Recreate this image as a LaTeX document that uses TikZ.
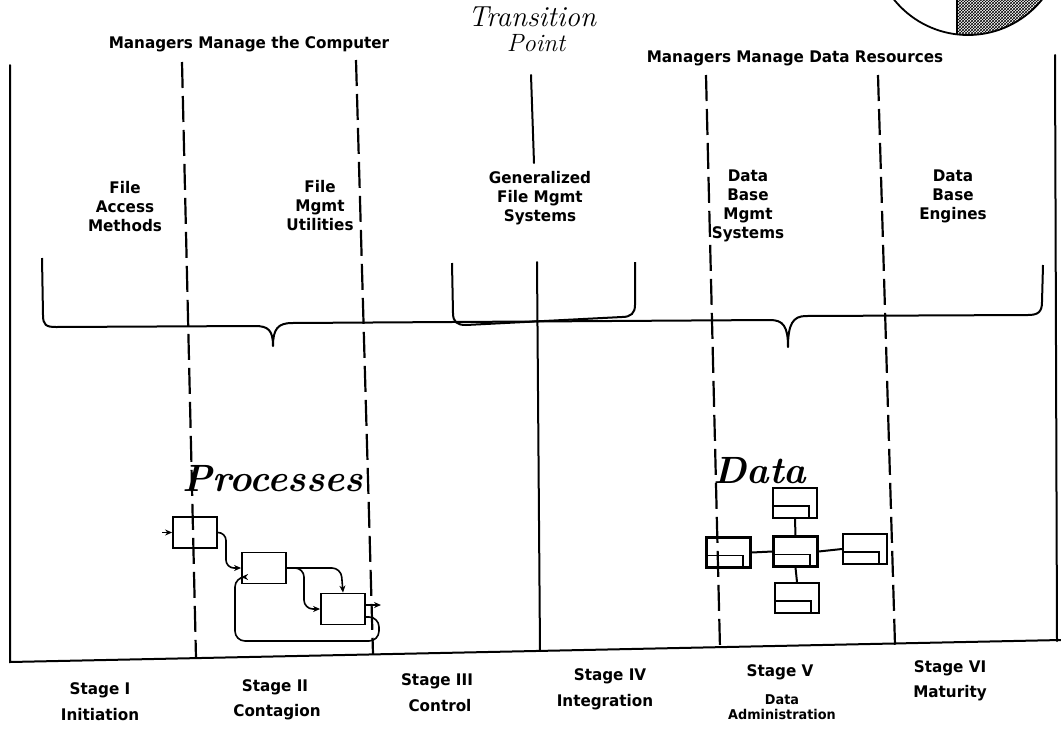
\documentclass[tikz,border=0pt]{standalone}
\usepackage{fontspec}
\setmainfont{Latin Modern Roman}
\newfontfamily\labelfont{DejaVu Sans}[FakeStretch=0.95]
\usetikzlibrary{arrows.meta,patterns}
\begin{document}
\begin{tikzpicture}[x=1pt,y=-1pt,
  frame/.style={line width=2pt,line cap=round},
  divider/.style={line width=2.2pt,dash pattern=on 26pt off 8pt},
  brk/.style={line width=2pt,line join=round},
  lbl/.style={font=\labelfont\bfseries\fontsize{16}{19}\selectfont,align=center,inner sep=0pt},
  small/.style={font=\labelfont\bfseries\fontsize{13.5}{15}\selectfont,align=center,inner sep=0pt},
  flow/.style={line width=1.6pt,-{Stealth[length=7pt,width=6pt]}},
  pbox/.style={draw,line width=1.8pt,minimum width=44pt,minimum height=31pt,inner sep=0pt},
  dbox/.style={draw,line width=2.2pt,minimum width=44pt,minimum height=30pt,inner sep=0pt},
  link/.style={line width=2pt},
  big/.style={font=\bfseries\itshape\fontsize{38}{38}\selectfont,inner sep=0pt}]
\useasboundingbox (0,0) rectangle (1061,729);
\clip (0,0) rectangle (1061,729);

% pie in the corner
\begin{scope}
  \clip (968,-60) circle (95);
  \fill[pattern=crosshatch] (957,-170) rectangle (1070,40);
\end{scope}
\draw[line width=1.8pt] (968,-60) circle (95);
\draw[line width=1.6pt] (957,-60) -- (957,34.5);

% frame
\draw[frame] (10,65) -- (10,662) -- (1061,640);
\draw[frame] (1055,55) -- (1057,641);

% stage dividers
\draw[divider] (182,62) -- (196,658);
\draw[divider] (356,60) -- (373,654);
\draw[divider] (706,75) -- (720,648);
\draw[divider] (878,75) -- (895,645);
\draw[frame] (531,75) -- (534,163);
\draw[frame] (537,262) -- (540,651);

% headings
\node[font=\itshape\fontsize{29}{29}\selectfont,inner sep=0pt] (tr1) at (532,17) {Transition};
\node[font=\itshape\fontsize{25}{25}\selectfont,inner sep=0pt] (tr2) at (536,43) {Point};
\node[lbl] (hl) at (249,44) {Managers Manage the Computer};
\node[lbl] (hr) at (795,58) {Managers Manage Data Resources};

% technologies
\node[lbl] (t1) at (125,207) {File\\Access\\Methods};
\node[lbl] (t2) at (320,206) {File\\Mgmt\\Utilities};
\node[lbl] (t3) at (540,198) {Generalized\\File Mgmt\\Systems};
\node[lbl] (t4) at (748,206) {Data\\Base\\Mgmt\\Systems};
\node[lbl] (t5) at (953,196) {Data\\Base\\Engines};

% braces
\draw[brk] (42,258) -- (43,315) .. controls (43,325) and (46,327) .. (56,327)
  -- (255,326) .. controls (268,326) and (273,330) .. (273,346)
  .. controls (273,329) and (278,323) .. (292,323)
  -- (770,320) .. controls (783,320) and (788,326) .. (788,347)
  .. controls (788,324) and (793,316) .. (806,316)
  -- (1028,315) .. controls (1038,315) and (1042,312) .. (1042,302) -- (1043,265);
\draw[brk] (452,263) -- (453,313) .. controls (453,322) and (457,325) .. (466,325)
  -- (622,317) .. controls (631,317) and (635,313) .. (635,305) -- (635,262);

% processes
\node[big] (proc) at (273,479) {Processes};
\node[pbox] (pa) at (195,532.5) {};
\node[pbox] (pb) at (264,568) {};
\node[pbox] (pc) at (343,609) {};
\coordinate (pin) at (162,532.5);
\coordinate (pout) at (381,605);
\draw[flow] (pin) -- (pa.west);
\draw[flow,rounded corners=8pt] (pa.east) -- (226,532.5) -- (226,568) -- (pb.west);
\draw[flow,rounded corners=9pt] (pb.east) -- (341,568) -- (pc.north);
\draw[flow,rounded corners=9pt] (pb.east) -- (304,568) -- (304,609) -- (pc.west);
\draw[flow] ([yshift=4pt]pc.east) -- (pout);
\draw[flow,rounded corners=10pt] ([yshift=-8pt]pc.east) -- (379,617) -- (379,641)
  -- (235,641) -- (235,577) -- ([yshift=-9pt]pb.west);

% data
\node[big] (data) at (760,471) {Data};
\node[dbox] (dt) at (795,503) {};
\node[dbox] (dm) at (795.5,551.5) {};
\node[dbox] (dl) at (728.5,552.5) {};
\node[dbox] (dr) at (865,549) {};
\node[dbox] (db) at (797,598) {};
\foreach \n in {dt,dm,dl,dr,db}
  \draw[line width=1.9pt] ([yshift=-3pt]\n.west) -| ([xshift=-9pt]\n.south east);
\draw[link] (dt.south) -- (dm.north);
\draw[link] (dm.south) -- (db.north);
\draw[link] (dl.east) -- (dm.west);
\draw[link] (dm.east) -- (dr.west);

% stages
\node[lbl] (s1) at (100,690) {Stage I};
\node[lbl] (n1) at (100,715) {Initiation};
\node[lbl] (s2) at (275,687) {Stage II};
\node[lbl] (n2) at (277,712) {Contagion};
\node[lbl] (s3) at (437,681) {Stage III};
\node[lbl] (n3) at (440,706) {Control};
\node[lbl] (s4) at (610,676) {Stage IV};
\node[lbl] (n4) at (605,702) {Integration};
\node[lbl] (s5) at (780,672) {Stage V};
\node[small] (n5) at (782,707) {Data\\Administration};
\node[lbl] (s6) at (950,668) {Stage VI};
\node[lbl] (n6) at (950,693) {Maturity};
\end{tikzpicture}
\end{document}
